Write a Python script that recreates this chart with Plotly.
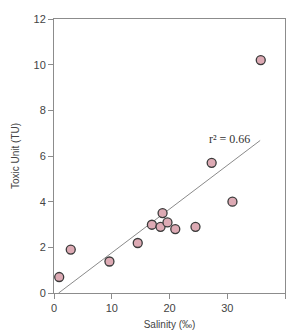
import plotly.graph_objects as go

salinity = [0.9, 2.9, 9.6, 14.5, 16.95, 18.45, 18.8, 19.65, 21.0, 24.5, 27.3, 30.9, 35.8]
toxic_unit = [0.7, 1.9, 1.38, 2.19, 2.99, 2.9, 3.5, 3.09, 2.8, 2.9, 5.7, 4.0, 10.2]
fit_x = [0.8, 35.7]
fit_y = [0.0, 6.68]
x_ticks = [0, 10, 20, 30, 40]
y_ticks = [0, 2, 4, 6, 8, 10, 12]

fig = go.Figure()
fig.add_trace(go.Scatter(x=fit_x, y=fit_y, mode="lines",
                         line=dict(color="#8a8a8a", width=1), hoverinfo="skip"))
fig.add_trace(go.Scatter(x=salinity, y=toxic_unit, mode="markers",
                         marker=dict(size=9, color="#ddaab4",
                                     line=dict(color="#3a3a3a", width=1.3))))
fig.add_annotation(x=26.5, y=6.75, text="r² = 0.66", showarrow=False,
                   xanchor="left", yanchor="middle",
                   font=dict(family="Liberation Serif", size=12, color="#333333"))

axis_common = dict(showgrid=False, zeroline=False, showline=True, linecolor="#8c8c8c",
                   linewidth=1, mirror=True, ticks="outside", ticklen=5, automargin=False,
                   tickcolor="#8c8c8c", tickfont=dict(family="Liberation Sans", size=11, color="#444444"))
fig.update_xaxes(range=[0, 40], tickvals=x_ticks,
                 title=dict(text="Salinity (‰)", standoff=9,
                            font=dict(family="Liberation Sans", size=10, color="#444444")),
                 **axis_common)
fig.update_yaxes(range=[0, 12], tickvals=y_ticks,
                 title=dict(text="Toxic Unit (TU)", standoff=12,
                            font=dict(family="Liberation Sans", size=10, color="#444444")),
                 **axis_common)
fig.update_layout(width=291, height=330, showlegend=False,
                  plot_bgcolor="white", paper_bgcolor="white",
                  margin=dict(l=54, r=6, t=19, b=37))
fig.write_html("out.html")
